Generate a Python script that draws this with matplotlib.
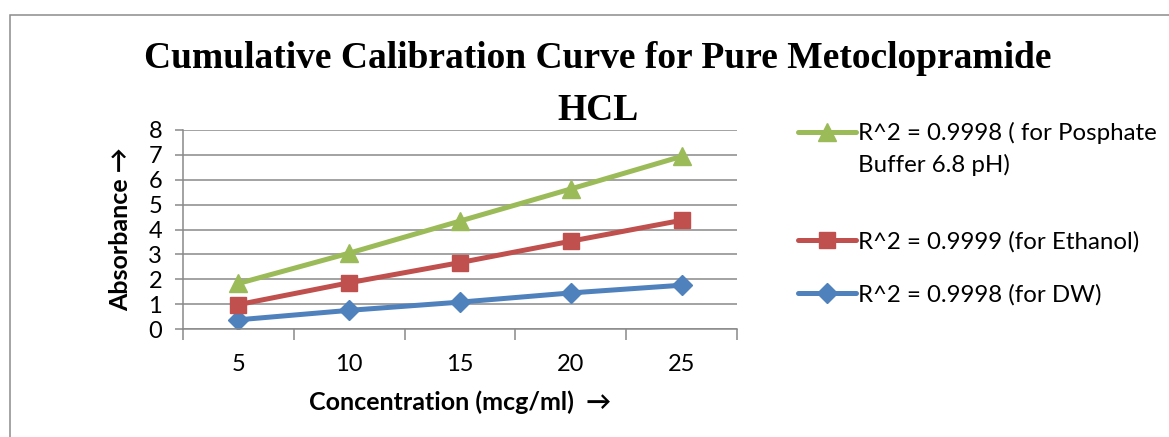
import matplotlib
matplotlib.use("Agg")
import matplotlib.pyplot as plt
from matplotlib.patches import Rectangle

plt.rcParams['font.family'] = ['Lato', 'DejaVu Sans']

concentration = ['5', '10', '15', '20', '25']
buffer_abs = [1.83, 3.05, 4.34, 5.63, 6.94]
ethanol_abs = [0.98, 1.86, 2.67, 3.53, 4.37]
dw_abs = [0.37, 0.75, 1.08, 1.45, 1.76]

buffer_label = 'R^2 = 0.9998 ( for Posphate'
buffer_label_2 = 'Buffer 6.8 pH)'
ethanol_label = 'R^2 = 0.9999 (for Ethanol)'
dw_label = 'R^2 = 0.9998 (for DW)'

green = '#9BBB59'
red = '#C0504D'
blue = '#4F81BD'
grid_grey = '#898989'

W, H = 1169, 437
fig = plt.figure(figsize=(W / 100, H / 100), dpi=100)
ax = fig.add_axes([183 / W, 1 - 329 / H, (737 - 183) / W, (329 - 130) / H])

x = list(range(len(concentration)))
l_dw, = ax.plot(x, dw_abs, color=blue, lw=3.6, marker='D', ms=10.5,
                label=dw_label, solid_capstyle='round')
l_eth, = ax.plot(x, ethanol_abs, color=red, lw=3.6, marker='s', ms=12,
                 label=ethanol_label, solid_capstyle='round')
l_buf, = ax.plot(x, buffer_abs, color=green, lw=3.6, marker='^', ms=13,
                 label=buffer_label, solid_capstyle='round')

ax.set_xlim(-0.5, len(concentration) - 0.5)
ax.set_ylim(0, 8)
ax.set_yticks(range(0, 9))
ax.set_xticks(x)
ax.set_xticklabels(concentration)
ax.set_xticks([i - 0.5 for i in range(len(concentration) + 1)], minor=True)
ax.tick_params(axis='x', which='major', length=0, pad=18, labelsize=17)
ax.tick_params(axis='x', which='minor', length=8, width=1.1, color=grid_grey)
ax.tick_params(axis='y', length=6, width=1.1, color=grid_grey, pad=9,
               labelsize=17)

ax.grid(axis='y', color=grid_grey, lw=1.1)
ax.set_axisbelow(True)
for s in ['top', 'right']:
    ax.spines[s].set_visible(False)
for s in ['left', 'bottom']:
    ax.spines[s].set_color(grid_grey)
    ax.spines[s].set_linewidth(1.1)

ax.set_ylabel('Absorbance →', fontsize=18, fontweight='bold')
ax.yaxis.set_label_coords((132 - 183) / 554, 0.5)
ax.set_xlabel('Concentration (mcg/ml)  →', fontsize=18, fontweight='bold',
              labelpad=11)

fig.text(598 / W, 1 - 58 / H, 'Cumulative Calibration Curve for Pure Metoclopramide',
         family='Liberation Serif', fontsize=27, fontweight='bold',
         ha='center', va='center')
fig.text(598 / W, 1 - 111 / H, 'HCL', family='Liberation Serif', fontsize=27,
         fontweight='bold', ha='center', va='center')

# legend entries, one per series, placed like the Excel legend
legend_kw = dict(loc='center left', frameon=False, fontsize=17.3, handlelength=2.4,
                 handletextpad=0.1, borderpad=0, borderaxespad=0)
leg1 = fig.legend(handles=[l_buf], bbox_to_anchor=(798 / W, 1 - 133 / H), **legend_kw)
leg2 = fig.legend(handles=[l_eth], bbox_to_anchor=(798 / W, 1 - 242 / H), **legend_kw)
leg3 = fig.legend(handles=[l_dw], bbox_to_anchor=(798 / W, 1 - 295 / H), **legend_kw)

# second line of the buffer label, lined up under the first
fig.canvas.draw()
bb = leg1.get_texts()[0].get_window_extent()
fig.text(bb.x0 / W, 1 - 165 / H, buffer_label_2, fontsize=17.3, va='center')

fig.add_artist(Rectangle((10 / W, -0.1), 1.2, 1.1 - 15 / H, transform=fig.transFigure,
                         fill=False, edgecolor='#8c8c8c', lw=1.1))

fig.savefig('out.png', dpi=100)
